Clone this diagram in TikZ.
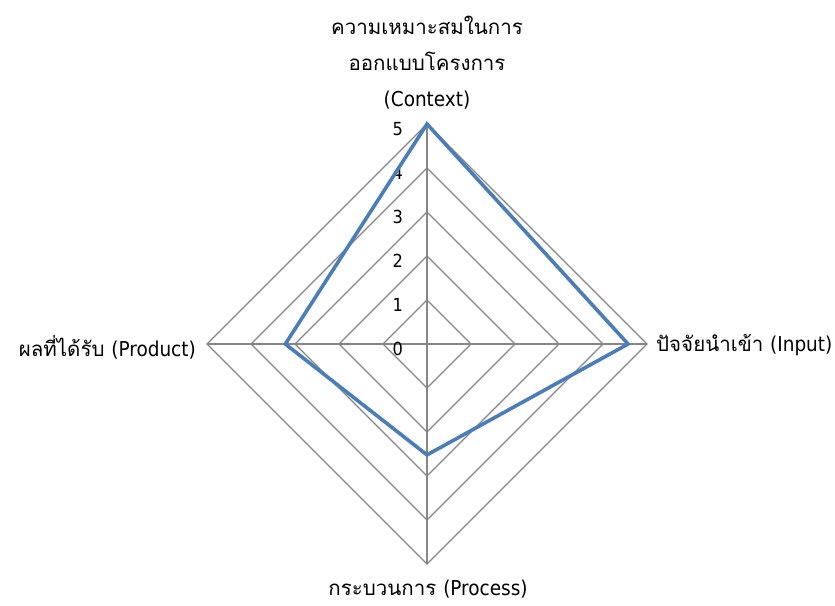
\documentclass[tikz,border=0pt]{standalone}
\usepackage{fontspec}
\setmainfont[Script=Thai]{Loma}
\newfontfamily\lat{DejaVu Sans Condensed}
\usetikzlibrary{calc}
\begin{document}
\begin{tikzpicture}[x=1pt,y=-1pt,
  grid/.style={draw={rgb,255:red,134;green,134;blue,134},line width=1.2pt},
  series/.style={draw={rgb,255:red,74;green,126;blue,187},line width=3.6pt,line join=miter},
  axlabel/.style={font=\fontsize{20.5}{36}\selectfont,align=center,inner sep=0pt},
  ticklabel/.style={font=\fontsize{18}{20}\selectfont\lat,anchor=east,inner sep=0pt}]
\useasboundingbox (0,0) rectangle (835,605);
\def\u{44}
\coordinate (O) at (427,344);
% rings
\foreach \r in {1,...,5}{
  \draw[grid] ($(O)+(0,-\r*\u)$) -- ($(O)+(\r*\u,0)$) -- ($(O)+(0,\r*\u)$) -- ($(O)+(-\r*\u,0)$) -- cycle;
}
\coordinate (T) at ($(O)+(0,-5*\u)$);
\coordinate (R) at ($(O)+(5*\u,0)$);
\coordinate (B) at ($(O)+(0,5*\u)$);
\coordinate (L) at ($(O)+(-5*\u,0)$);
\draw[grid] (T) -- (B);
\draw[grid] (L) -- (R);
% tick labels
\foreach \r in {0,...,5}{
  \node[ticklabel] (t\r) at ($(O)+(403-427,-\r*\u+5)$) {\r};
}
% series
\coordinate (pC) at ($(O)+(0,-5*\u)$);
\coordinate (pI) at ($(O)+(4.57*\u,0)$);
\coordinate (pP) at ($(O)+(0,2.52*\u)$);
\coordinate (pD) at ($(O)+(-3.22*\u,0)$);
\draw[series] (pC) -- (pI) -- (pP) -- (pD) -- cycle;
% axis labels
\node[axlabel] (lC) at (427,63) {ความเหมาะสมในการ\\ออกแบบโครงการ\\{\lat(Context)}};
\node[axlabel,anchor=west] (lI) at (656,345) {ปัจจัยนำเข้า {\lat(Input)}};
\node[axlabel,anchor=east] (lD) at (196,347) {ผลที่ได้รับ {\lat(Product)}};
\node[axlabel] (lP) at (428,589) {กระบวนการ {\lat(Process)}};
\end{tikzpicture}
\end{document}
